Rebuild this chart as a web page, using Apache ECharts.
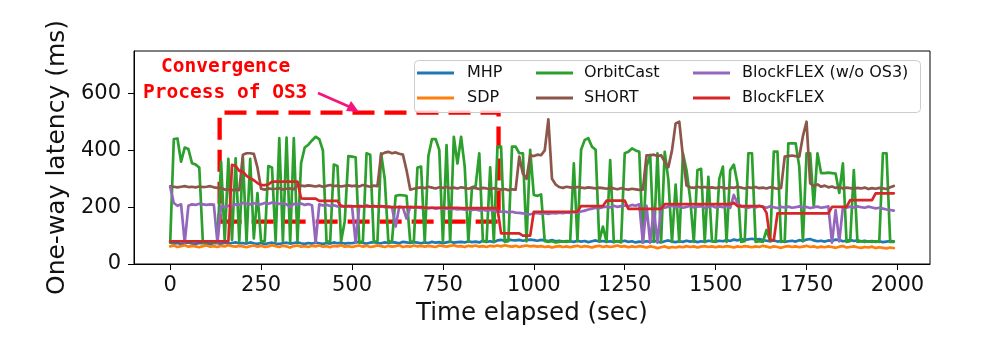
<!DOCTYPE html>
<html><head><meta charset="utf-8">
<script src="https://cdn.jsdelivr.net/npm/echarts@6/dist/echarts.min.js"></script>
<style>html,body{margin:0;padding:0;background:#fff}#c{width:997px;height:350px}</style>
</head><body><div id="c"></div>
<script>
// sample times (sec)
const times = [
0,10,20,30,40,50,60,70,80,90,
100,110,120,130,140,150,160,170,180,190,
200,210,220,230,240,250,260,270,280,290,
300,310,320,330,340,350,360,370,380,390,
400,410,420,430,440,450,460,470,480,490,
500,510,520,530,540,550,560,570,580,590,
600,610,620,630,640,650,660,670,680,690,
700,710,720,730,740,750,760,770,780,790,
800,810,820,830,840,850,860,870,880,890,
900,910,920,930,940,950,960,970,980,990,
1000,1010,1020,1030,1040,1050,1060,1070,1080,1090,
1100,1110,1120,1130,1140,1150,1160,1170,1180,1190,
1200,1210,1220,1230,1240,1250,1260,1270,1280,1290,
1300,1310,1320,1330,1340,1350,1360,1370,1380,1390,
1400,1410,1420,1430,1440,1450,1460,1470,1480,1490,
1500,1510,1520,1530,1540,1550,1560,1570,1580,1590,
1600,1610,1620,1630,1640,1650,1660,1670,1680,1690,
1700,1710,1720,1730,1740,1750,1760,1770,1780,1790,
1800,1810,1820,1830,1840,1850,1860,1870,1880,1890,
1900,1910,1920,1930,1940,1950,1960,1970,1980,1990];

const mhp = [
75,72,74,70,73,76,72,71,74,73,
72,70,74,73,71,75,72,74,76,73,
74,72,76,73,71,74,70,73,75,72,
71,73,75,72,74,76,73,71,74,72,
75,73,71,74,72,76,73,75,72,74,
73,76,78,74,72,75,77,74,73,76,
74,77,75,73,78,76,74,77,75,73,
76,74,78,75,77,73,76,79,75,77,
78,76,80,77,79,76,82,78,80,77,
83,85,82,86,84,83,85,82,84,86,
84,82,85,83,81,84,80,82,79,81,
80,78,82,79,81,77,80,83,79,81,
78,80,77,81,79,82,78,80,76,79,
77,80,78,82,79,76,80,83,79,77,
80,78,82,79,81,77,80,78,82,80,
79,82,80,84,81,86,83,88,85,87,
89,86,88,84,82,80,83,79,81,78,
80,82,79,84,81,86,88,83,80,82,
79,83,81,86,84,80,82,85,81,83,
80,82,79,81,78,80,77,79,81,80];

const sdp = [
62,65,60,63,66,61,64,62,59,63,
65,61,63,60,64,62,66,63,61,64,
62,59,63,65,61,64,60,62,66,63,
60,64,62,58,63,65,61,63,60,64,
62,65,61,63,59,64,62,66,61,63,
60,63,65,61,64,60,62,65,63,60,
64,61,63,66,60,63,61,65,62,64,
61,64,62,60,65,63,61,64,66,62,
63,60,64,62,65,61,63,60,64,62,
65,62,66,63,61,64,60,63,65,62,
64,61,63,60,62,58,61,63,60,62,
59,62,64,60,63,61,58,62,64,60,
63,60,62,65,61,63,59,62,60,63,
61,58,62,60,56,59,62,57,60,58,
61,59,63,60,62,58,61,63,60,62,
59,62,60,63,61,58,62,60,63,61,
59,62,60,64,61,58,62,60,57,61,
63,60,62,59,61,64,60,62,58,61,
59,62,60,57,61,63,58,60,62,59,
57,60,58,61,56,59,57,55,58,56];

const orbitCast = [
75,440,442,360,410,405,355,350,340,75,
78,80,75,78,360,80,370,85,372,80,
375,78,370,90,250,80,80,345,340,80,
443,80,445,78,443,80,355,410,420,435,
448,440,400,78,80,350,345,80,150,380,
378,376,75,80,390,385,78,80,390,300,
78,80,240,243,242,240,80,78,340,343,
78,380,440,440,402,78,419,78,448,354,
448,343,78,270,275,390,80,78,340,78,
413,413,78,80,413,413,390,390,80,402,
243,240,245,80,78,80,76,78,80,78,
80,354,80,402,437,443,413,402,80,132,
78,366,78,80,76,390,395,407,400,395,
78,343,384,78,390,78,395,296,78,280,
78,390,330,230,78,331,335,78,307,80,
78,300,343,78,330,350,284,78,80,390,
390,78,80,78,120,80,396,396,78,80,
425,425,425,343,80,390,390,200,390,320,
320,322,320,318,250,354,78,80,331,78,
80,78,80,78,80,78,390,390,78,78];

const shortLat = [
273,272,270,272,274,271,272,270,273,271,
272,274,270,268,268,262,262,260,262,260,
385,390,390,388,340,265,262,266,264,265,
267,262,265,266,263,278,276,274,277,275,
273,276,272,275,278,274,276,273,275,277,
274,276,273,278,275,272,276,274,385,392,
395,390,393,388,385,330,262,265,268,270,
267,272,269,266,270,268,271,267,269,266,
270,268,265,269,267,264,268,266,263,267,
265,262,264,260,263,262,378,318,300,383,
380,385,383,400,509,300,280,271,268,272,
270,268,271,269,267,270,268,266,269,267,
265,268,266,263,267,264,262,265,263,261,
262,383,383,385,380,383,360,341,400,495,
501,380,276,270,268,272,269,271,268,270,
267,271,269,266,270,268,272,269,266,270,
268,271,267,269,266,270,268,265,268,378,
380,382,380,378,450,501,284,275,280,272,
276,270,273,268,271,266,269,267,265,268,
266,269,264,267,265,268,266,264,270,275];

const blockflexNoOS3 = [
272,215,205,210,75,205,210,208,212,210,
208,210,209,75,205,200,205,203,210,208,
215,213,210,214,212,210,215,212,216,214,
212,214,210,200,212,209,213,208,211,207,
75,210,206,209,204,207,203,206,202,205,
204,75,205,203,207,202,205,201,204,200,
203,200,132,202,199,160,201,198,200,197,
199,196,198,195,197,194,196,193,195,192,
194,191,193,190,192,189,191,188,190,187,
186,184,185,182,184,181,180,178,176,175,
178,180,177,179,176,180,178,181,179,182,
180,183,181,185,188,192,195,198,196,200,
202,199,205,201,204,206,203,208,205,210,
75,205,75,195,75,200,198,202,205,200,
203,198,201,205,199,202,204,197,201,205,
199,203,200,205,198,243,215,203,200,198,
202,199,205,201,198,203,200,197,201,199,
202,198,200,203,199,201,197,200,202,198,
200,203,75,190,80,200,198,202,199,203,
200,198,202,199,196,198,195,192,190,188];

const blockflex = [
80,80,80,80,80,80,80,80,80,80,
80,80,80,80,80,80,80,349,345,328,
325,310,302,295,285,278,278,280,290,290,
290,290,290,290,290,290,231,230,230,230,
230,222,222,222,222,222,222,203,203,203,
203,203,203,203,203,203,203,203,203,203,
200,200,200,200,200,200,200,200,200,200,
198,198,198,198,198,198,198,198,198,198,
197,197,197,197,197,197,197,197,197,197,
196,108,108,108,108,108,108,100,100,100,
184,184,184,184,184,184,184,184,184,184,
184,184,184,204,204,204,204,204,204,204,
223,223,223,223,223,223,194,194,194,194,
194,194,194,194,194,194,211,211,211,211,
211,211,211,211,211,211,211,211,211,211,
211,211,211,211,211,216,204,204,204,204,
204,204,204,202,180,84,84,178,178,178,
178,178,178,178,178,178,178,178,178,178,
178,178,201,201,201,201,201,225,225,225,
225,225,225,225,249,249,249,249,249,249];

const xTickValues = [0,250,500,750,1000,1250,1500,1750,2000];
const yTickValues = [0,200,400,600];
const seriesNames = ['MHP','SDP','OrbitCast','SHORT','BlockFLEX (w/o OS3)','BlockFLEX'];
const seriesValues = [mhp, sdp, orbitCast, shortLat, blockflexNoOS3, blockflex];
const seriesColors = ['#1f77b4','#ff7f0e','#2ca02c','#8c564b','#9467bd','#d62728'];
// annotated region: [time start, latency low], [time end, latency high]
const convergenceBox = [[136, 149], [903, 533]];

const chart = echarts.init(document.getElementById('c'), null, {renderer: 'canvas'});
const series = seriesNames.map((n, k) => ({
  type: 'line', name: n,
  data: times.map((t, i) => [t, seriesValues[k][i]]),
  showSymbol: false, symbol: 'none',
  lineStyle: {width: 2.7, color: seriesColors[k], join: 'round', cap: 'round'},
  itemStyle: {color: seriesColors[k]},
  emphasis: {disabled: true},
  z: 2 + k
}));
series.push({
  type: 'line', name: '__box', data: [], z: 20,
  markArea: {
    silent: true,
    itemStyle: {color: 'rgba(0,0,0,0)', borderColor: '#ff0000', borderWidth: 4.3, borderType: [22, 10]},
    emphasis: {disabled: true},
    data: [[{coord: convergenceBox[0]}, {coord: convergenceBox[1]}]]
  }
});

const legendBase = {
  orient: 'vertical', top: 64, itemWidth: 37, itemHeight: 3, itemGap: 7,
  icon: 'rect', selectedMode: false, padding: 0, z: 12,
  textStyle: {fontFamily: 'DejaVu Sans', fontSize: 16, color: '#111', lineHeight: 18, padding: [0,0,0,7]}
};
const axisTextStyle = {fontFamily: 'DejaVu Sans', fontSize: 21, color: '#111'};
const plainNum = v => String(v);

chart.setOption({
  animation: false,
  grid: {left: 134, right: 67, top: 51, bottom: 86, show: true, borderColor: '#000', borderWidth: 1, backgroundColor: 'transparent'},
  xAxis: {
    type: 'value', min: -99.5, max: 2089.5,
    name: 'Time elapsed (sec)', nameLocation: 'middle', nameGap: 37,
    nameTextStyle: {fontFamily: 'DejaVu Sans', fontSize: 24.5, color: '#111'},
    axisLine: {show: true, onZero: false, lineStyle: {color: '#000', width: 1}},
    axisTick: {show: true, length: 6, lineStyle: {color: '#000'}, customValues: xTickValues},
    axisLabel: Object.assign({margin: 11, customValues: xTickValues, formatter: plainNum}, axisTextStyle),
    splitLine: {show: false}
  },
  yAxis: {
    type: 'value', min: 0, max: 750,
    name: 'One-way latency (ms)', nameLocation: 'middle', nameGap: 61, nameRotate: 90,
    nameTextStyle: {fontFamily: 'DejaVu Sans', fontSize: 25, color: '#111'},
    axisLine: {show: true, onZero: false, lineStyle: {color: '#000', width: 1}},
    axisTick: {show: true, length: 6, lineStyle: {color: '#000'}, customValues: yTickValues},
    axisLabel: Object.assign({margin: 13, customValues: yTickValues, formatter: plainNum}, axisTextStyle),
    splitLine: {show: false}
  },
  legend: [
    Object.assign({}, legendBase, {left: 417, data: ['MHP','SDP'], textStyle: Object.assign({}, legendBase.textStyle, {padding: [0,0,0,8]})}),
    Object.assign({}, legendBase, {left: 536, data: ['OrbitCast','SHORT'], textStyle: Object.assign({}, legendBase.textStyle, {padding: [0,0,0,6]})}),
    Object.assign({}, legendBase, {left: 693, data: ['BlockFLEX (w/o OS3)','BlockFLEX'], textStyle: Object.assign({}, legendBase.textStyle, {padding: [0,0,0,7]})})
  ],
  graphic: [
    {type: 'rect', z: 11, silent: true, shape: {x: 414.5, y: 60.5, width: 506, height: 52, r: 4},
     style: {fill: 'rgba(255,255,255,0.8)', stroke: '#cccccc', lineWidth: 1}},
    {type: 'text', z: 30, left: 161, top: 57, style: {text: 'Convergence', fill: '#ff0000', font: 'bold 19.5px "DejaVu Sans Mono"'}},
    {type: 'text', z: 30, left: 143, top: 83, style: {text: 'Process of OS3', fill: '#ff0000', font: 'bold 19.5px "DejaVu Sans Mono"'}},
    {type: 'line', z: 30, silent: true, shape: {x1: 318, y1: 93, x2: 350, y2: 107},
     style: {stroke: '#f5157a', lineWidth: 2.5}},
    {type: 'polygon', z: 30, silent: true, shape: {points: [[359, 112], [346, 111], [351, 101]]},
     style: {fill: '#f5157a'}}
  ],
  series: series
});
</script></body></html>
